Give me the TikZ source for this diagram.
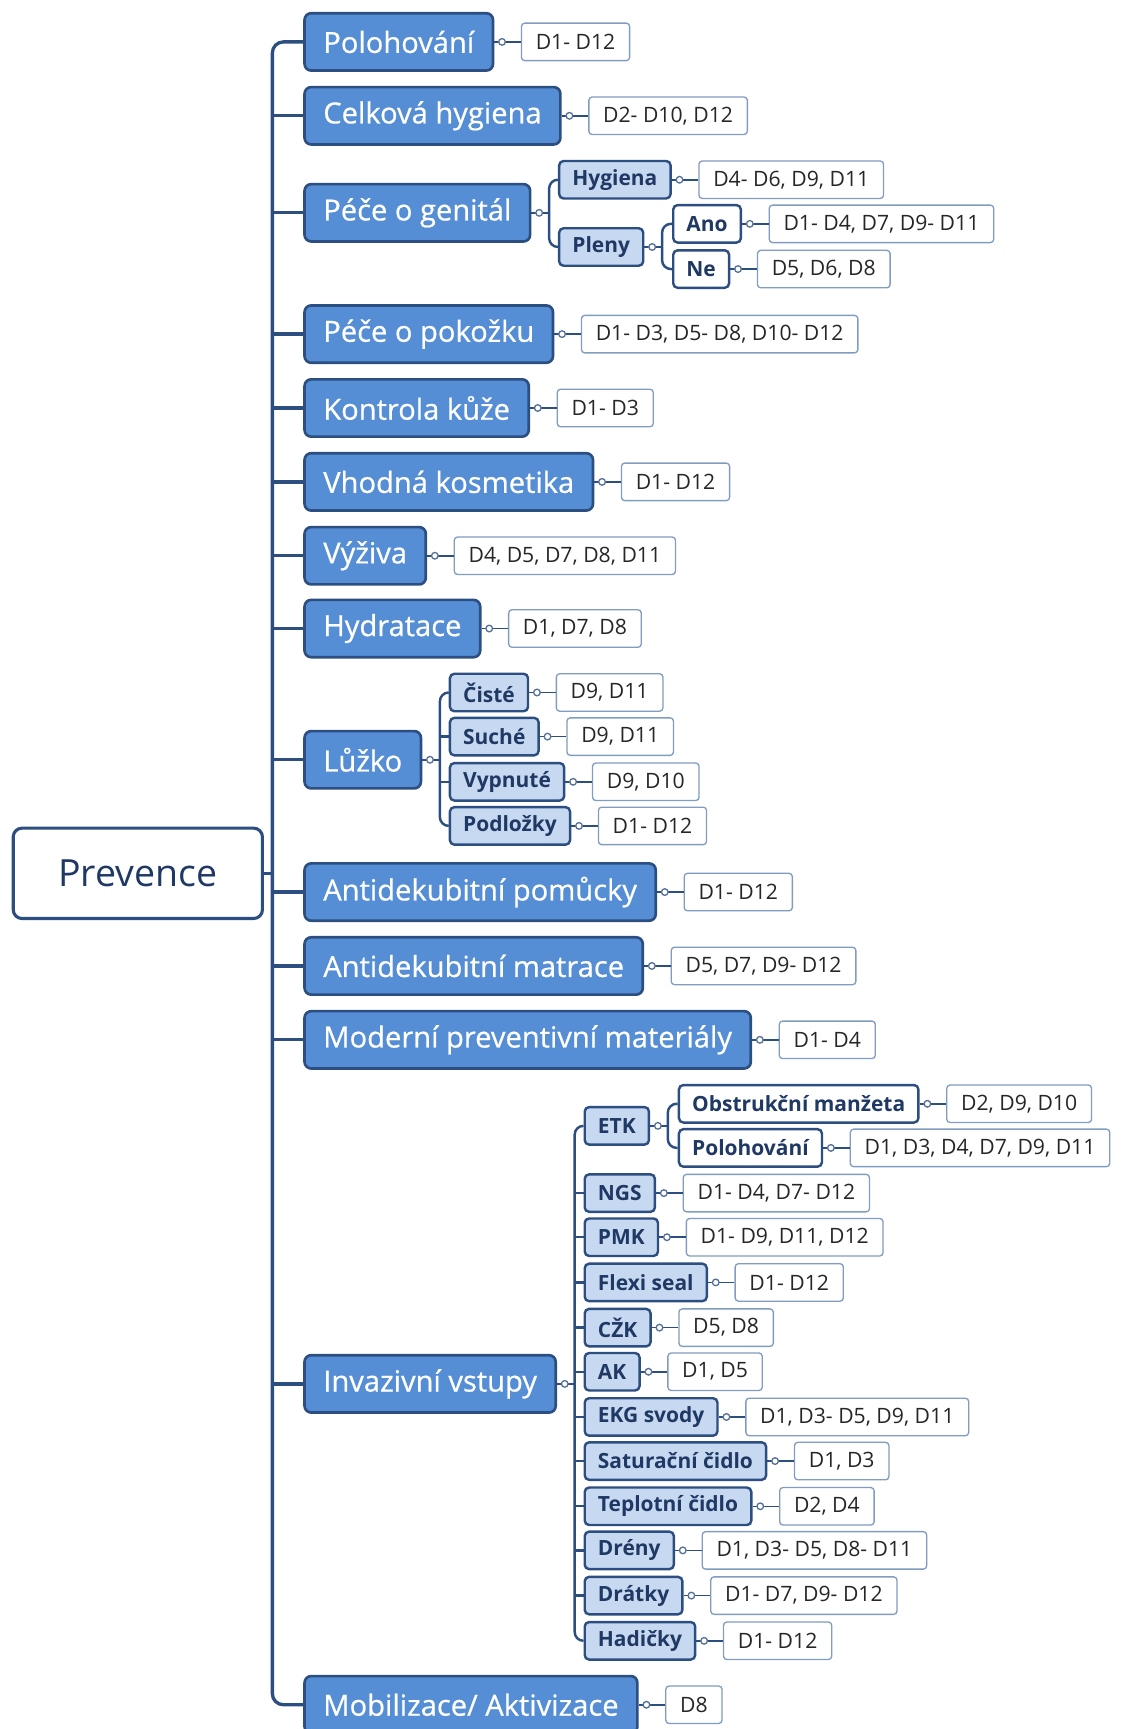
\documentclass[tikz,border=0pt]{standalone}
\usepackage{fontspec}
\setmainfont{Open Sans}
\newfontfamily\topicfont{Open Sans}[FakeBold=0.6]
\usetikzlibrary{positioning,calc}

\definecolor{navy}{RGB}{44,78,128}
\definecolor{topicblue}{RGB}{85,142,213}
\definecolor{subblue}{RGB}{198,217,241}
\definecolor{tagline}{RGB}{128,156,192}
\definecolor{subtext}{RGB}{31,56,100}

\tikzset{
  root/.style={draw=navy, line width=1.4pt, rounded corners=4pt, fill=white, text=subtext,
    minimum width=113pt, minimum height=41pt, font=\fontsize{17}{20}\selectfont},
  topic/.style={draw=navy, line width=1.2pt, rounded corners=3pt, fill=topicblue, text=white,
    minimum height=26pt, inner xsep=8.5pt, anchor=west, font=\topicfont\fontsize{13.2}{15}\selectfont},
  subtopic/.style={draw=navy, line width=1.1pt, rounded corners=2pt, fill=subblue, text=subtext,
    minimum height=17pt, inner xsep=6pt, inner ysep=1pt, anchor=west, font=\bfseries\fontsize{9.5}{11}\selectfont},
  subwhite/.style={subtopic, fill=white},
  tag/.style={draw=tagline, line width=0.6pt, rounded corners=1.5pt, fill=white, text=black!85,
    minimum height=17pt, inner xsep=6.5pt, inner ysep=1pt, font=\fontsize{9.6}{11}\selectfont},
  trunk/.style={navy, line width=1.5pt, rounded corners=5pt},
  branch/.style={navy, line width=1.1pt, rounded corners=4pt},
  link/.style={navy, line width=0.7pt},
  knob/.style={draw=navy!80, fill=white, line width=0.6pt}
}

\begin{document}
\begin{tikzpicture}[x=0.5pt, y=-0.5pt]
  \useasboundingbox (0,0) rectangle (1020,1568);
  % Define dimensions
  \def\gap{12pt}
  \def\fork{8pt}

  % Root and main topics
  \node[root] (prev) at (125,792) {Prevence};
  \coordinate (trunk) at (247,792);
  \foreach \name/\txt/\yy in {pol/Polohování/38, cel/Celková hygiena/105, gen/Péče o genitál/193,
      pok/Péče o pokožku/303, kon/Kontrola kůže/370, kos/Vhodná kosmetika/437, vyz/Výživa/504,
      hyd/Hydratace/570, luz/Lůžko/689, pom/Antidekubitní pomůcky/809, mat/Antidekubitní matrace/876,
      mod/Moderní preventivní materiály/943, inv/Invazivní vstupy/1255, mob/{Mobilizace/ Aktivizace}/1546}
    \node[topic] (\name) at (275,\yy) {\txt};

  % Draw trunk
  \draw[trunk] (pol.west) -| (trunk) |- (mob.west);
  \foreach \name in {cel,gen,pok,kon,kos,vyz,hyd,luz,pom,mat,mod,inv}
    \draw[trunk] (trunk |- \name.west) -- (\name.west);
  \draw[trunk] (prev.east) -- (trunk);

  % Pece o genital
  \coordinate (gen-x) at ([xshift=\gap]gen.east);
  \coordinate (gen-b) at ([xshift=\fork]gen.east);
  \node[subtopic] (hyg) at (gen-x |- 0,163) {Hygiena};
  \node[subtopic] (ple) at (gen-x |- 0,224) {Pleny};
  \draw[branch] (hyg.west) -| (gen-b) |- (ple.west);
  \draw[branch] (gen.east) -- (gen-b);
  \coordinate (ple-x) at ([xshift=12.5pt]ple.east);
  \coordinate (ple-b) at ([xshift=\fork]ple.east);
  \node[subwhite] (ano) at (ple-x |- 0,203) {Ano};
  \node[subwhite] (ne) at (ple-x |- 0,244) {Ne};
  \draw[branch] (ano.west) -| (ple-b) |- (ne.west);
  \draw[branch] (ple.east) -- (ple-b);

  % Luzko
  \coordinate (luz-x) at ([xshift=\gap]luz.east);
  \coordinate (luz-b) at ([xshift=\fork]luz.east);
  \foreach \name/\txt/\yy in {cis/Čisté/628, suc/Suché/668, vyp/Vypnuté/709, pod/Podložky/749}
    \node[subtopic] (\name) at (luz-x |- 0,\yy) {\txt};
  \draw[branch] (cis.west) -| (luz-b) |- (pod.west);
  \foreach \name in {suc,vyp}
    \draw[branch] (luz-b |- \name.west) -- (\name.west);
  \draw[branch] (luz.east) -- (luz-b);

  % Invazivni vstupy
  \coordinate (inv-x) at ([xshift=\gap]inv.east);
  \coordinate (inv-b) at ([xshift=\fork]inv.east);
  \foreach \name/\txt/\yy in {etk/ETK/1021, ngs/NGS/1082, pmk/PMK/1122, fle/Flexi seal/1163,
      czk/CŽK/1204, ak/AK/1244, ekg/EKG svody/1285, sat/Saturační čidlo/1325,
      tep/Teplotní čidlo/1366, dre/Drény/1406, dra/Drátky/1447, had/Hadičky/1488}
    \node[subtopic] (\name) at (inv-x |- 0,\yy) {\txt};
  \draw[branch] (etk.west) -| (inv-b) |- (had.west);
  \foreach \name in {ngs,pmk,fle,czk,ak,ekg,sat,tep,dre,dra}
    \draw[branch] (inv-b |- \name.west) -- (\name.west);
  \draw[branch] (inv.east) -- (inv-b);
  \coordinate (etk-x) at ([xshift=12.5pt]etk.east);
  \coordinate (etk-b) at ([xshift=\fork]etk.east);
  \node[subwhite] (obs) at (etk-x |- 0,1001) {Obstrukční manžeta};
  \node[subwhite] (etp) at (etk-x |- 0,1041) {Polohování};
  \draw[branch] (obs.west) -| (etk-b) |- (etp.west);
  \draw[branch] (etk.east) -- (etk-b);

  % Tags
  \foreach \name/\tags in {pol/{D1- D12}, cel/{D2- D10, D12}, pok/{D1- D3, D5- D8, D10- D12},
      kon/{D1- D3}, kos/{D1- D12}, vyz/{D4, D5, D7, D8, D11}, hyd/{D1, D7, D8}, pom/{D1- D12},
      mat/{D5, D7, D9- D12}, mod/{D1- D4}, mob/{D8},
      hyg/{D4- D6, D9, D11}, ano/{D1- D4, D7, D9- D11}, ne/{D5, D6, D8},
      cis/{D9, D11}, suc/{D9, D11}, vyp/{D9, D10}, pod/{D1- D12},
      obs/{D2, D9, D10}, etp/{D1, D3, D4, D7, D9, D11}, ngs/{D1- D4, D7- D12},
      pmk/{D1- D9, D11, D12}, fle/{D1- D12}, czk/{D5, D8}, ak/{D1, D5},
      ekg/{D1, D3- D5, D9, D11}, sat/{D1, D3}, tep/{D2, D4}, dre/{D1, D3- D5, D8- D11},
      dra/{D1- D7, D9- D12}, had/{D1- D12}}{
    \node[tag, right=\gap of \name] (\name-t) {\tags};
    \draw[link] (\name.east) -- (\name-t.west);
  }

  % Knobs
  \foreach \name in {pol,cel,gen,pok,kon,kos,vyz,hyd,luz,pom,mat,mod,inv,mob,hyg,ple,ano,ne,
      cis,suc,vyp,pod,etk,obs,etp,ngs,pmk,fle,czk,ak,ekg,sat,tep,dre,dra,had}
    \draw[knob] ([xshift=3.5pt]\name.east) circle (1.5pt);
\end{tikzpicture}
\end{document}
